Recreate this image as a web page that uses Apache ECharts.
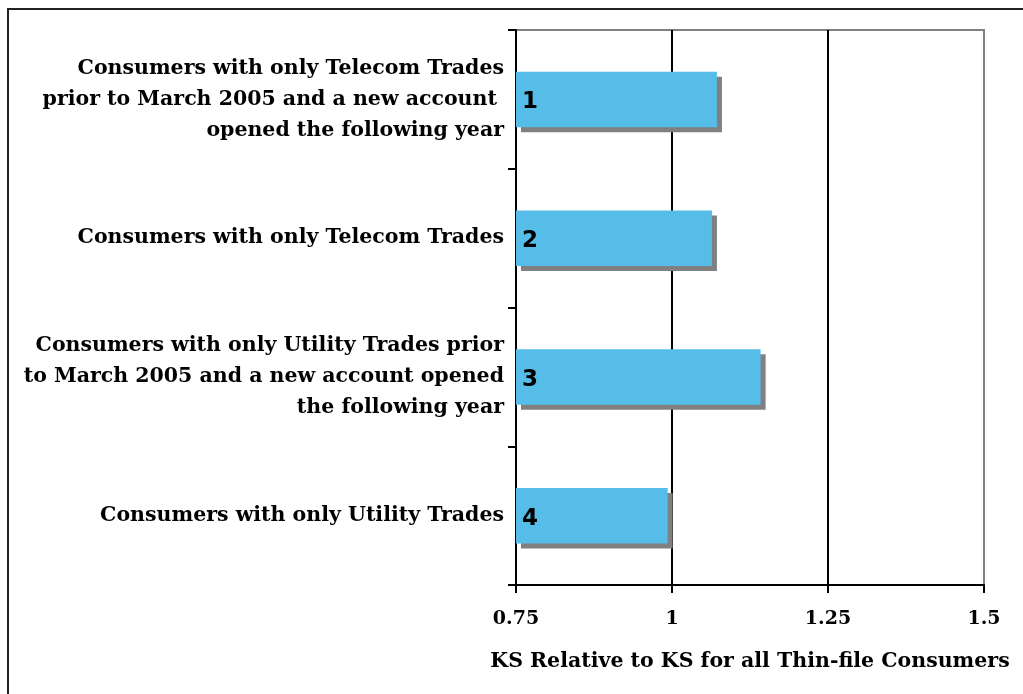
<!DOCTYPE html>
<html>
<head>
<meta charset="utf-8">
<script src="https://cdn.jsdelivr.net/npm/echarts@6/dist/echarts.min.js"></script>
<style>
  html, body { margin: 0; padding: 0; background: #fff; }
  #chart { width: 1023px; height: 694px; }
</style>
</head>
<body>
<div id="chart"></div>
<script>
// 分类标签（自上而下）
const categories = [
  'Consumers with only Telecom Trades\nprior to March 2005 and a new account \nopened the following year',
  'Consumers with only Telecom Trades',
  'Consumers with only Utility Trades prior\nto March 2005 and a new account opened\nthe following year',
  'Consumers with only Utility Trades'
]
const barNumbers = ['1', '2', '3', '4']
const ksValues = [1.072, 1.064, 1.142, 0.993]
const xTicks = [0.75, 1, 1.25, 1.5]

const serif = '"DejaVu Serif", serif'

const chart = echarts.init(document.getElementById('chart'))

const option = {
  animation: false,
  grid: {
    left: 516,
    right: 39,
    top: 30,
    bottom: 109,
    show: true,
    borderColor: '#808080',
    borderWidth: 2
  },
  graphic: [
    {
      type: 'polyline',
      shape: { points: [[8, 694], [8, 9], [1023, 9]] },
      style: { stroke: '#222', lineWidth: 2, fill: null }
    }
  ],
  xAxis: {
    type: 'value',
    min: xTicks[0],
    max: xTicks[xTicks.length - 1],
    interval: 0.25,
    name: 'KS Relative to KS for all Thin-file Consumers',
    nameLocation: 'middle',
    nameGap: 66,
    nameTextStyle: {
      fontFamily: serif,
      fontWeight: 'bold',
      fontSize: 20.5,
      color: '#000'
    },
    axisLine: { show: true, lineStyle: { color: '#000', width: 2 } },
    axisTick: { show: true, length: 8, lineStyle: { color: '#000', width: 2 } },
    axisLabel: {
      margin: 25,
      fontFamily: serif,
      fontWeight: 'bold',
      fontSize: 19,
      color: '#000',
      formatter: (v) => String(v)
    },
    splitLine: {
      show: true,
      showMinLine: false,
      showMaxLine: false,
      lineStyle: { color: '#000', width: 2 }
    }
  },
  yAxis: {
    type: 'category',
    inverse: true,
    data: categories,
    axisLine: { show: true, lineStyle: { color: '#000', width: 2 } },
    axisTick: { show: true, length: 8, lineStyle: { color: '#000', width: 2 } },
    axisLabel: {
      margin: 12,
      align: 'right',
      fontFamily: serif,
      fontWeight: 'bold',
      fontSize: 20.5,
      lineHeight: 31,
      color: '#000'
    }
  },
  series: [
    {
      type: 'bar',
      data: ksValues,
      barWidth: '40%',
      itemStyle: {
        color: '#56BCE8',
        shadowColor: '#808080',
        shadowOffsetX: 5,
        shadowOffsetY: 5,
        shadowBlur: 0
      },
      label: {
        show: true,
        position: 'insideLeft',
        distance: 6,
        offset: [0, 3],
        formatter: (p) => barNumbers[p.dataIndex],
        fontFamily: '"DejaVu Sans", sans-serif',
        fontWeight: 'bold',
        fontSize: 23,
        color: '#000'
      }
    }
  ]
}

chart.setOption(option)
</script>
</body>
</html>
